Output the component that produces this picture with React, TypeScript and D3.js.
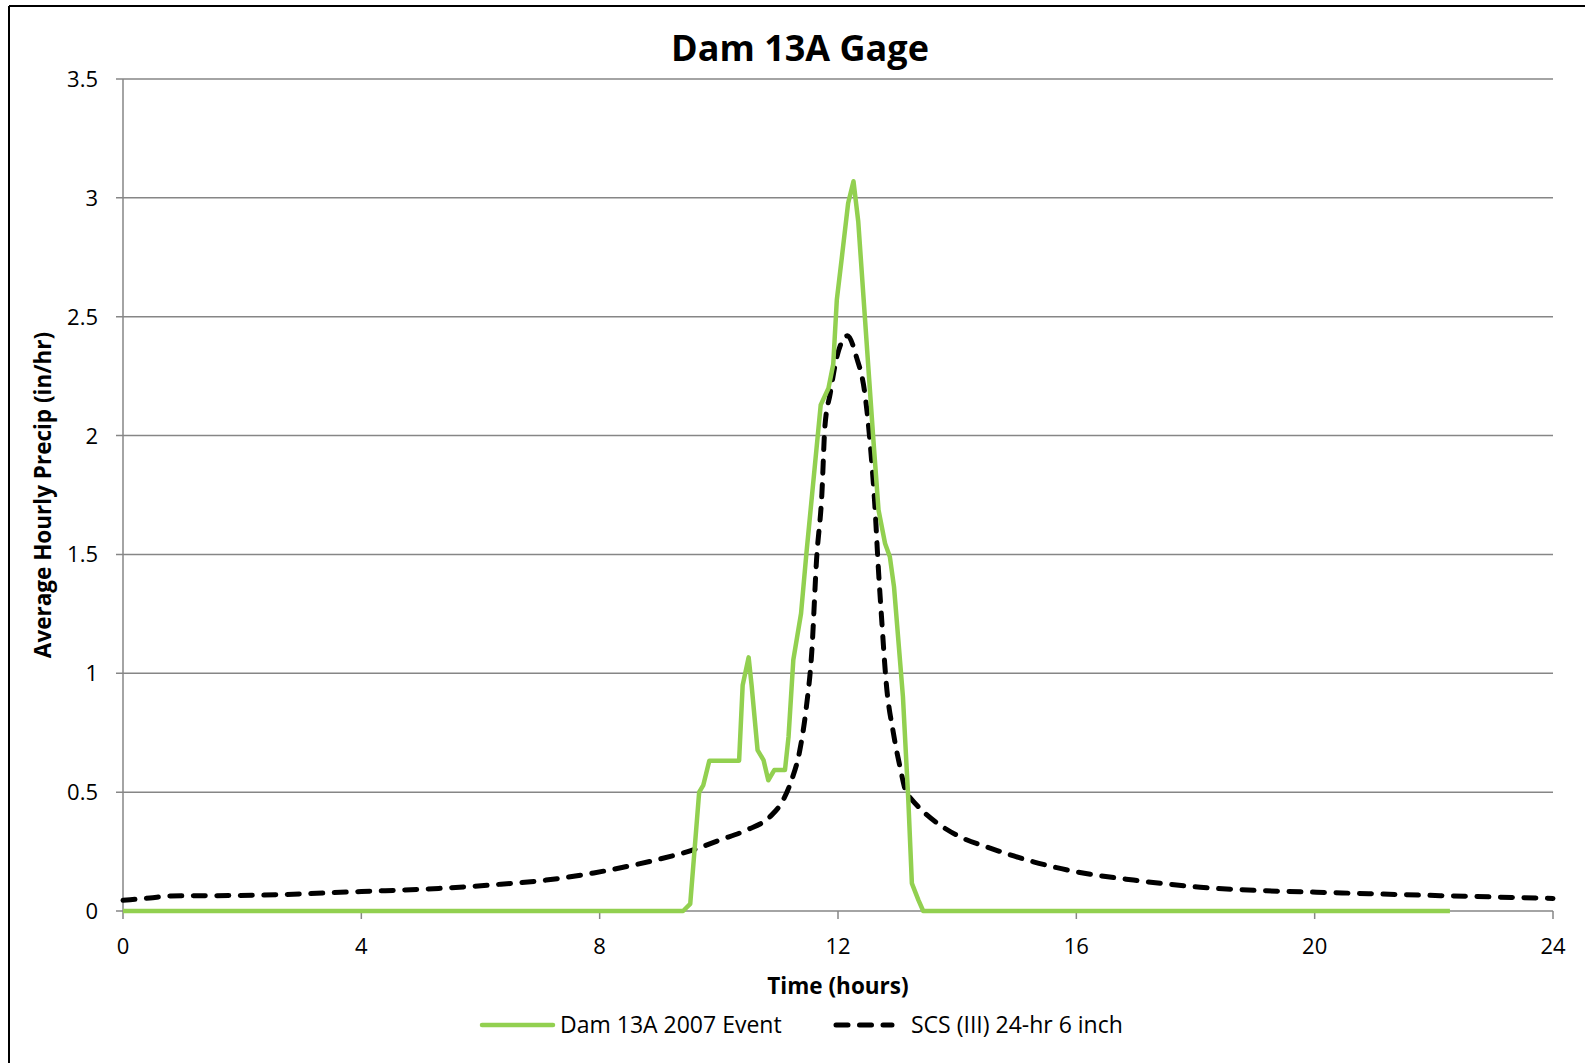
import React from "react";
import * as d3 from "d3";

const TITLE = "Dam 13A Gage";
const X_LABEL = "Time (hours)";
const Y_LABEL = "Average Hourly Precip (in/hr)";
const X_TICKS = [0, 4, 8, 12, 16, 20, 24];
const Y_TICKS = [0, 0.5, 1, 1.5, 2, 2.5, 3, 3.5];
const SERIES_NAMES = ["Dam 13A 2007 Event", "SCS (III) 24-hr 6 inch"];

// Dam 13A 2007 Event: [hour, in/hr]
const eventHours = [0, 9.4, 9.52, 9.67, 9.74, 9.84, 10.34, 10.4, 10.5, 10.55, 10.65, 10.75, 10.83, 10.93, 11.11, 11.17, 11.25, 11.38, 11.47, 11.71, 11.84, 11.92, 11.98, 12.06, 12.17, 12.26, 12.34, 12.59, 12.68, 12.79, 12.87, 12.94, 13.09, 13.18, 13.24, 13.35, 13.43, 22.27];
const eventValues = [0, 0, 0.03, 0.5, 0.53, 0.632, 0.632, 0.95, 1.067, 0.95, 0.677, 0.635, 0.55, 0.593, 0.593, 0.733, 1.056, 1.252, 1.505, 2.129, 2.199, 2.3, 2.57, 2.74, 2.977, 3.07, 2.9, 1.995, 1.687, 1.546, 1.49, 1.364, 0.901, 0.467, 0.116, 0.046, 0, 0];

// SCS (III) 24-hr 6 inch: [hour, in/hr]
const scsHours = [0, 0.45, 0.8, 2.2, 4.0, 5.3, 6.2, 7.1, 7.9, 8.6, 9.0, 9.57, 10.02, 10.47, 10.86, 11.08, 11.22, 11.36, 11.47, 11.56, 11.64, 11.73, 11.78, 11.87, 11.98, 12.16, 12.31, 12.45, 12.54, 12.62, 12.68, 12.73, 12.81, 12.93, 13.04, 13.15, 13.2, 13.46, 13.71, 14.1, 14.49, 15.28, 16.0, 16.96, 18.08, 19.19, 20.03, 21.15, 24];
const scsValues = [0.045, 0.055, 0.063, 0.066, 0.082, 0.095, 0.11, 0.13, 0.16, 0.195, 0.218, 0.257, 0.299, 0.341, 0.397, 0.467, 0.55, 0.677, 0.86, 1.09, 1.477, 1.757, 2.037, 2.178, 2.33, 2.42, 2.33, 2.178, 1.967, 1.7, 1.43, 1.238, 0.958, 0.748, 0.607, 0.495, 0.48, 0.411, 0.362, 0.306, 0.27, 0.207, 0.165, 0.13, 0.1, 0.085, 0.079, 0.071, 0.053];

const W = 1585;
const H = 1063;
const FONT = "'Open Sans', 'DejaVu Sans', sans-serif";
const GREEN = "#92D050";
const GRID = "#868686";

export default function App() {
  const x = d3.scaleLinear().domain([0, 24]).range([123, 1553]);
  const y = d3.scaleLinear().domain([0, 3.5]).range([911, 79]);

  const eventData = eventHours.map((h, i) => [h, eventValues[i]] as [number, number]);
  const scsData = scsHours.map((h, i) => [h, scsValues[i]] as [number, number]);

  const lineLinear = d3
    .line<[number, number]>()
    .x((d) => x(d[0]))
    .y((d) => y(d[1]));
  const lineSmooth = d3
    .line<[number, number]>()
    .x((d) => x(d[0]))
    .y((d) => y(d[1]))
    .curve(d3.curveMonotoneX);

  const [x0, x1] = x.range();

  return (
    <svg
      width={W}
      height={H}
      style={{ position: "absolute", left: 0, top: 0, background: "#fff" }}
      fontFamily={FONT}
    >
      <rect x={0} y={0} width={W} height={H} fill="#fff" />
      {/* frame */}
      <line x1={9} y1={6} x2={W} y2={6} stroke="#000" strokeWidth={2} />
      <line x1={9} y1={6} x2={9} y2={H} stroke="#000" strokeWidth={2} />

      {/* gridlines */}
      {Y_TICKS.map((t) => (
        <g key={"y" + t}>
          <line x1={x0 - 7} x2={x1} y1={y(t)} y2={y(t)} stroke={GRID} strokeWidth={1.5} />
          <text x={98} y={y(t) + 8} fontSize={22} textAnchor="end" fill="#000">
            {t}
          </text>
        </g>
      ))}
      <line x1={x0} x2={x0} y1={y(3.5)} y2={y(0)} stroke={GRID} strokeWidth={1.5} />
      {X_TICKS.map((t) => (
        <g key={"x" + t}>
          <line x1={x(t)} x2={x(t)} y1={y(0)} y2={y(0) + 8} stroke={GRID} strokeWidth={1.5} />
          <text x={x(t)} y={954} fontSize={22} textAnchor="middle" fill="#000">
            {t}
          </text>
        </g>
      ))}

      {/* series */}
      <path
        d={lineSmooth(scsData) || ""}
        fill="none"
        stroke="#000"
        strokeWidth={5}
        strokeDasharray="12 11.5"
        strokeLinecap="round"
        strokeLinejoin="round"
      />
      <path
        d={lineLinear(eventData) || ""}
        fill="none"
        stroke={GREEN}
        strokeWidth={4.5}
        strokeLinejoin="round"
      />

      {/* title & labels */}
      <text x={800} y={61} fontSize={36} fontWeight="bold" textAnchor="middle" fill="#000">
        {TITLE}
      </text>
      <text x={838} y={994} fontSize={22.5} fontWeight="bold" textAnchor="middle" fill="#000">
        {X_LABEL}
      </text>
      <text
        transform={`translate(51, 495) rotate(-90)`}
        fontSize={22.5}
        fontWeight="bold"
        textAnchor="middle"
        fill="#000"
      >
        {Y_LABEL}
      </text>

      {/* legend */}
      <line x1={482} x2={553} y1={1025} y2={1025} stroke={GREEN} strokeWidth={4.5} strokeLinecap="round" />
      <text x={560} y={1033} fontSize={23} fill="#000">
        {SERIES_NAMES[0]}
      </text>
      <line
        x1={836}
        x2={892}
        y1={1025}
        y2={1025}
        stroke="#000"
        strokeWidth={5}
        strokeDasharray="12 11.5"
        strokeLinecap="round"
      />
      <text x={911} y={1033} fontSize={23} fill="#000">
        {SERIES_NAMES[1]}
      </text>
    </svg>
  );
}
